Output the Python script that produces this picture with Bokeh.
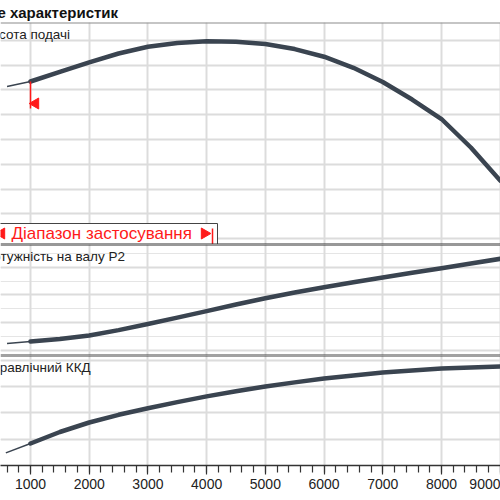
from bokeh.plotting import figure
from bokeh.layouts import column
from bokeh.models import Range1d, Grid, SingleIntervalTicker, FixedTicker, Span
from bokeh.core.properties import value
from bokeh.embed import file_html
from bokeh.resources import INLINE
import math

# ---------------- data ----------------
flow = [600, 1000, 1500, 2000, 2500, 3000, 3500, 4000, 4500, 5000,
        5500, 6000, 6500, 7000, 7500, 8000, 8500, 9000]
head = [8.14, 8.343, 8.735, 9.119, 9.475, 9.745, 9.903, 9.968, 9.952, 9.855,
        9.653, 9.345, 8.897, 8.323, 7.616, 6.828, 5.677, 4.343]
power = [0.225, 0.2324, 0.2411, 0.2540, 0.2735, 0.2955, 0.3185, 0.3419, 0.3656, 0.3883,
         0.4088, 0.4279, 0.4459, 0.4628, 0.4797, 0.4963, 0.5132, 0.5301]
eff_flow = [580, 1000, 1500, 2000, 2500, 3000, 3500, 4000, 4500, 5000,
            5500, 6000, 6500, 7000, 7500, 8000, 8500, 9000]
efficiency = [4.8, 8.38, 12.76, 16.38, 19.31, 21.83, 24.15, 26.32, 28.27, 30.06,
              31.66, 33.10, 34.32, 35.39, 36.23, 36.91, 37.37, 37.71]

x_ticks = [1000, 2000, 3000, 4000, 5000, 6000, 7000, 8000, 9000]
head_grid = [2, 3, 4, 5, 6, 7, 8, 9, 10]
power_grid = [0.2, 0.3, 0.4, 0.5]
eff_grid = [0, 10, 20, 30, 40]

range_start = 1000
range_end = 4100

title_text = "Поле характеристик"
label_head = "Висота подачі"
label_power = "Потужність на валу P2"
label_eff = "Гідравлічний ККД"
range_text = "Діапазон застосування"

# ---------------- layout ----------------
W = 500
X0, X1 = 489, 9005
PPX = W / (X1 - X0)
FONT = "Liberation Sans"
CURVE = "#3a4450"
GRID = "#dcdcdc"
RED = "#ff1a1a"

def make_fig(height, yr, top=0, bottom=0, xaxis=False):
    p = figure(width=W, height=height, output_backend="svg", toolbar_location=None,
               x_range=Range1d(X0, X1), y_range=Range1d(*yr),
               x_axis_location="below" if xaxis else None, y_axis_location=None,
               min_border_left=0, min_border_right=0, min_border_top=top,
               min_border_bottom=bottom, outline_line_color=None,
               background_fill_color="white", border_fill_color="white")
    p.add_layout(Grid(dimension=0, ticker=FixedTicker(ticks=x_ticks),
                      grid_line_color=GRID, grid_line_width=2))
    return p

def add_ygrid(p, ticks):
    p.add_layout(Grid(dimension=1, ticker=FixedTicker(ticks=ticks),
                      grid_line_color=GRID, grid_line_width=2))

def split(xs, ys):
    i = xs.index(range_start)
    return xs[:i + 1], ys[:i + 1], xs[i:], ys[i:]

def curve(p, xs, ys):
    tx, ty, kx, ky = split(xs, ys)
    p.line(tx, ty, line_color=CURVE, line_width=1.5)
    p.line(kx, ky, line_color=CURVE, line_width=4.5, line_cap="round", line_join="round")

def panel_label(p, yr, txt, xoff):
    p.text(x=[X0], y=[yr[1]], text=[txt], text_font=value(FONT),
           text_font_size=value("13.5px"), text_color="#222222",
           text_baseline="top", text_align="left", x_offset=xoff, y_offset=4)

# ---- panel 1: head ----
Y1 = (1.758, 10.727)
p1 = make_fig(244, Y1, top=22)
PPY1 = 222 / (Y1[1] - Y1[0])
p1.title.text = title_text
p1.title.text_font = FONT
p1.title.text_font_size = "15px"
p1.title.text_font_style = "bold"
p1.title.text_color = "#111111"
p1.title.align = "left"
p1.title.offset = -32
p1.title.standoff = 3
add_ygrid(p1, head_grid)
p1.add_layout(Span(location=Y1[1], dimension="width", line_color="#8c8c8c", line_width=2))
p1.add_layout(Span(location=Y1[0], dimension="width", line_color="#333333", line_width=2))
curve(p1, flow, head)
panel_label(p1, Y1, label_head, -18)

# range start marker
h_start = head[flow.index(range_start)]
p1.segment(x0=[range_start], y0=[h_start], x1=[range_start], y1=[h_start - 27 / PPY1],
           line_color=RED, line_width=1.5)
p1.scatter(x=[range_start + 5 / PPX], y=[h_start - 22 / PPY1], marker="triangle",
           size=11, angle=math.pi / 2, fill_color=RED, line_color=RED)

# application range box
box_b = Y1[0]
box_t = Y1[0] + 21 / PPY1
p1.quad(left=[X0 - 200], right=[range_end + 5 / PPX], bottom=[box_b], top=[box_t],
        fill_color="white", line_color="#444444", line_width=1)
p1.text(x=[X0], y=[box_b + 11 / PPY1], text=[range_text], text_font=value(FONT),
        text_font_size=value("17px"), text_color=RED, text_baseline="middle",
        text_align="left", x_offset=11)
p1.scatter(x=[X0 + 1 / PPX, range_end - 8 / PPX], y=[box_b + 11 / PPY1] * 2,
           marker="triangle", size=11, angle=[math.pi / 2, -math.pi / 2],
           fill_color=RED, line_color=RED)
p1.segment(x0=[range_end], y0=[box_b], x1=[range_end], y1=[box_b + 16 / PPY1],
           line_color=RED, line_width=1.5)

# ---- panel 2: power ----
Y2 = (0.182, 0.5817)
p2 = make_fig(111, Y2)
add_ygrid(p2, power_grid)
p2.add_layout(Span(location=Y2[1], dimension="width", line_color="#333333", line_width=2))
p2.add_layout(Span(location=Y2[0], dimension="width", line_color="#444444", line_width=2))
curve(p2, flow, power)
panel_label(p2, Y2, label_power, -17)

# ---- panel 3: efficiency ----
Y3 = (0, 41.9)
p3 = make_fig(145, Y3, bottom=35, xaxis=True)
add_ygrid(p3, eff_grid)
p3.add_layout(Span(location=Y3[1], dimension="width", line_color="#444444", line_width=2))
curve(p3, eff_flow, efficiency)
panel_label(p3, Y3, label_eff, -19)

ax = p3.xaxis[0]
ax.ticker = SingleIntervalTicker(interval=1000, num_minor_ticks=5)
ax.axis_line_color = "#333333"
ax.axis_line_width = 1.5
ax.major_tick_line_color = "#333333"
ax.minor_tick_line_color = "#333333"
ax.major_tick_line_width = 1.2
ax.minor_tick_line_width = 1.2
ax.major_tick_in = 0
ax.major_tick_out = 9
ax.minor_tick_in = 0
ax.minor_tick_out = 7
ax.major_label_text_font = FONT
ax.major_label_text_font_size = "14px"
ax.major_label_text_color = "#222222"
ax.major_label_standoff = 4

layout = column(p1, p2, p3, spacing=0)
open("out.html", "w").write(file_html(layout, INLINE))
